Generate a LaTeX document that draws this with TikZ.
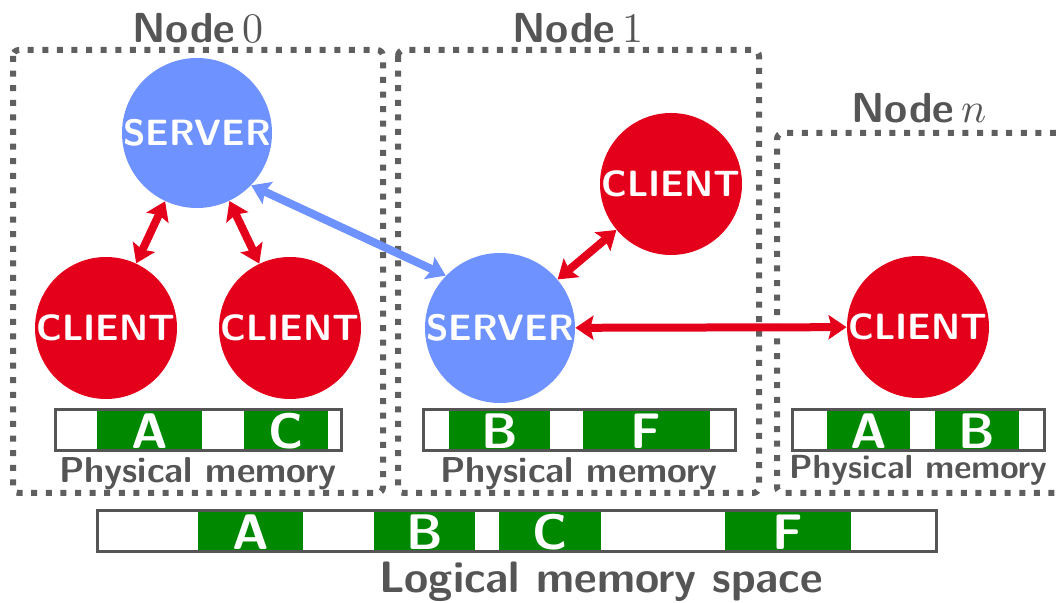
\documentclass[tikz,border=0pt]{standalone}
\usepackage{fontspec}
\usepackage{unicode-math}
\usetikzlibrary{arrows.meta}

\definecolor{srvblue}{RGB}{110,146,255}
\definecolor{clired}{RGB}{228,0,27}
\definecolor{memgreen}{RGB}{0,137,0}
\definecolor{labelgray}{RGB}{85,85,85}
\definecolor{boxgray}{RGB}{95,95,95}

\tikzset{
  nodebox/.style={draw=boxgray, line width=3pt, dash pattern=on 3pt off 4.3pt, rounded corners=3pt},
  server/.style={circle, fill=srvblue, inner sep=0pt, minimum size=75pt, text=white,
    font=\sffamily\bfseries\fontsize{18.3}{18.3}\selectfont},
  client/.style={server, fill=clired, minimum size=71pt},
  title/.style={anchor=base, text=labelgray, font=\sffamily\bfseries\fontsize{21}{21}\selectfont},
  memlabel/.style={anchor=base, text=labelgray, inner sep=0pt, font=\sffamily\bfseries\fontsize{18}{18}\selectfont},
  memletter/.style={anchor=base, text=white, inner sep=0pt, font=\sffamily\bfseries\fontsize{25}{25}\selectfont},
  membar/.style={draw=labelgray, line width=1.5pt},
  biarrow/.style={{Stealth[length=9pt,width=12pt,inset=1.5pt]}-{Stealth[length=9pt,width=12pt,inset=1.5pt]}, line width=4pt},
}

\begin{document}
\begin{tikzpicture}[x=0.5pt, y=-0.5pt]
        \useasboundingbox (0,0) rectangle (1056,603);

        % node boxes
        \draw[nodebox] (13,50) rectangle (383,493);
        \draw[nodebox] (398,50) rectangle (759,493);
        \draw[nodebox] (1056,133) -- (777,133) -- (777,493) -- (1056,493);

        \node[title] (t0) at (198,43)  {Node\,$0$};
        \node[title] (t1) at (578,43)  {Node\,$1$};
        \node[title] (tn) at (919,123) {Node\,$n$};

        % Node 0
        \node[server] (srv0)  at (197,133) {SERVER};
        \node[client] (cli0a) at (106,328) {CLIENT};
        \node[client] (cli0b) at (290,328) {CLIENT};

        % Node 1
        \node[server] (srv1) at (500,328) {SERVER};
        \node[client] (cli1) at (671,184) {CLIENT};

        % Node n
        \node[client] (clin) at (918,327) {CLIENT};

        \draw[biarrow, clired] (srv0) -- (cli0a);
        \draw[biarrow, clired] (srv0) -- (cli0b);
        \draw[biarrow, srvblue] (srv0.-44) -- (srv1.136);
        \draw[biarrow, clired] (srv1) -- (cli1);
        \draw[biarrow, clired] (srv1) -- (clin);

        % physical memory, node 0
        \fill[memgreen] (97,410) rectangle (202,451);
        \fill[memgreen] (244,410) rectangle (328,451);
        \draw[membar] (55,410) rectangle (341,451);
        \node[memletter] (pa0) at (149.5,449) {A};
        \node[memletter] (pc0) at (286,449) {C};
        \node[memlabel] (pm0) at (198,483) {Physical memory};

        % physical memory, node 1
        \fill[memgreen] (449,410) rectangle (550,451);
        \fill[memgreen] (583,410) rectangle (710,451);
        \draw[membar] (423,410) rectangle (735,451);
        \node[memletter] (pb1) at (499.5,449) {B};
        \node[memletter] (pf1) at (646,449) {F};
        \node[memlabel] (pm1) at (579,483) {Physical memory};

        % physical memory, node n
        \fill[memgreen] (827,410) rectangle (910,451);
        \fill[memgreen] (935,410) rectangle (1019,451);
        \draw[membar] (792,410) rectangle (1044,451);
        \node[memletter] (pan) at (868.5,449) {A};
        \node[memletter] (pbn) at (977,449) {B};
        \node[memlabel, font=\sffamily\bfseries\fontsize{16.7}{16.7}\selectfont] (pmn) at (918,479) {Physical memory};

        % logical memory space
        \fill[memgreen] (198,511) rectangle (303,552);
        \fill[memgreen] (374,511) rectangle (475,552);
        \fill[memgreen] (499,511) rectangle (601,552);
        \fill[memgreen] (725,511) rectangle (851,552);
        \draw[membar] (97,511) rectangle (936,552);
        \node[memletter] (la) at (250.5,550) {A};
        \node[memletter] (lb) at (424.5,550) {B};
        \node[memletter] (lc) at (550,550) {C};
        \node[memletter] (lf) at (788,550) {F};
        \node[memlabel, font=\sffamily\bfseries\fontsize{22}{22}\selectfont] (lms) at (601,593) {Logical memory space};
\end{tikzpicture}
\end{document}
